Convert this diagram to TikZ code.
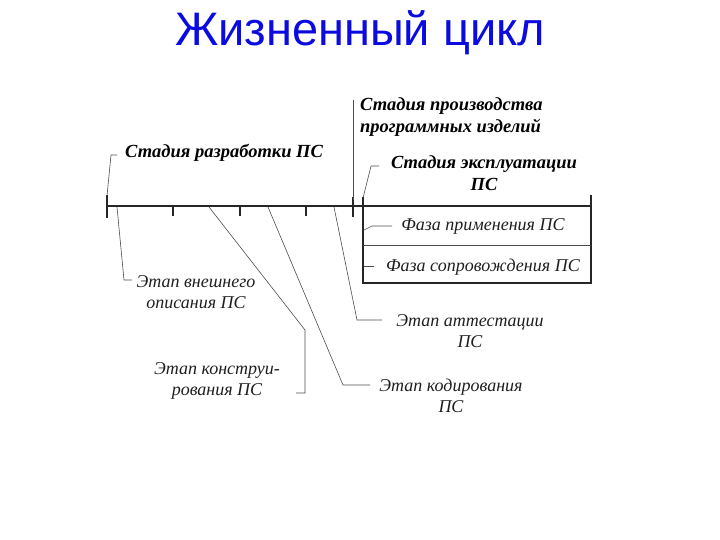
\documentclass[tikz,border=0pt]{standalone}
\usepackage{fontspec}
\setmainfont{Liberation Serif}
\newfontfamily\titlefont{Liberation Sans}
\definecolor{titleblue}{RGB}{10,10,225}
\begin{document}
\begin{tikzpicture}[x=1pt,y=-1pt,
  title/.style={font=\titlefont\fontsize{47}{52}\selectfont, text=titleblue, inner sep=0pt},
  stagelbl/.style={font=\fontsize{18.5}{21.5}\selectfont\bfseries\itshape, inner sep=0pt, align=center},
  etaplbl/.style={font=\fontsize{18}{20.5}\selectfont\itshape, text=black!88, inner sep=0pt, align=center},
  axisline/.style={line width=2.6pt, black!85},
  tallTick/.style={line width=2.4pt, black!85},
  smallTick/.style={line width=1.8pt, black!85},
  leader/.style={line width=0.6pt, black!70},
  boxline/.style={line width=1.4pt, black!85},
  thinline/.style={line width=0.6pt, black!70}]
\useasboundingbox (0,0) rectangle (720,540);
\node[title] (title) at (360,33) {Жизненный цикл};

% axis and box
\coordinate (a0) at (107,206);
\coordinate (a1) at (591,206);
\draw[axisline] (a0) -- (a1);
\draw[tallTick] (107,195) -- (107,218);
\draw[tallTick] (353,197) -- (353,217);
\draw[smallTick] (173,206) -- (173,216);
\draw[smallTick] (240,206) -- (240,216);
\draw[smallTick] (306,206) -- (306,216);
\draw[line width=2.2pt, black!85] (363,197) -- (363,284);
\draw[boxline] (363,283) -- (591,283) -- (591,195);
\draw[thinline] (363,245) -- (591,245);
\draw[thinline] (353,100) -- (353,200);

% stage labels
\node[stagelbl, anchor=west] (razr) at (125,153) {Стадия разработки ПС};
\node[stagelbl, align=left, anchor=west] (proizv) at (360,117) {Стадия производства\\программных изделий};
\node[stagelbl] (ekspl) at (484,173) {Стадия эксплуатации\\ПС};
\node[etaplbl] (primen) at (483,226) {Фаза применения ПС};
\node[etaplbl] (sopr) at (483,267) {Фаза сопровождения ПС};
\node[etaplbl] (vnesh) at (196,292) {Этап внешнего\\описания ПС};
\node[etaplbl] (konstr) at (217,381) {Этап конструи-\\рования ПС};
\node[etaplbl] (kodir) at (451,396) {Этап кодирования\\ПС};
\node[etaplbl] (attest) at (470,331) {Этап аттестации\\ПС};

% leaders
\draw[leader] (107,196) -- (111,155) -- (117,155);
\draw[leader] (363,198) -- (371,166) -- (379,166);
\draw[leader] (364,230) -- (372,226) -- (392,226);
\draw[leader] (364,266) -- (374,266);
\draw[leader] (117,207) -- (124,280) -- (132,280);
\draw[leader] (209,207) -- (305,330) -- (305,393) -- (296,393);
\draw[leader] (268,207) -- (343,385) -- (370,385);
\draw[leader] (334,207) -- (357,320) -- (382,320);
\end{tikzpicture}
\end{document}
